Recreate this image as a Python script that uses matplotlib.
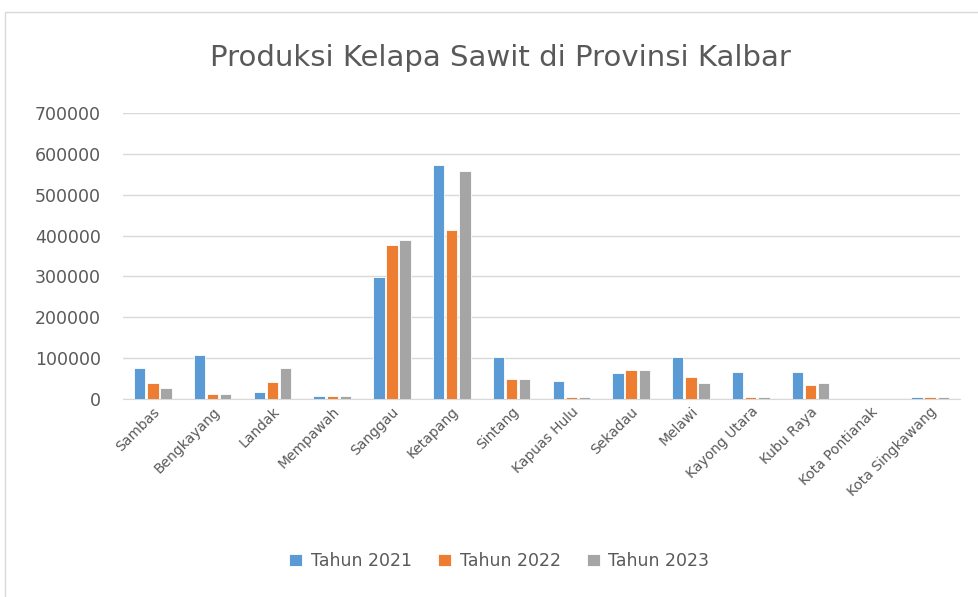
import matplotlib
matplotlib.use("Agg")
import matplotlib.pyplot as plt
import numpy as np
from matplotlib.patches import Rectangle

# data
kabupaten = ["Sambas", "Bengkayang", "Landak", "Mempawah", "Sanggau", "Ketapang",
             "Sintang", "Kapuas Hulu", "Sekadau", "Melawi", "Kayong Utara",
             "Kubu Raya", "Kota Pontianak", "Kota Singkawang"]
tahun_2021 = [77000, 107000, 16000, 8000, 298000, 573000, 102000, 45000, 63000,
              102000, 67000, 67000, 0, 4500]
tahun_2022 = [38000, 12000, 41000, 8000, 378000, 414000, 48000, 5000, 70000,
              55000, 5000, 34000, 0, 4500]
tahun_2023 = [26000, 12000, 77000, 8000, 390000, 558000, 48000, 5000, 70000,
              38000, 5000, 38000, 0, 4500]

series = [("Tahun 2021", tahun_2021, "#5B9BD5"),
          ("Tahun 2022", tahun_2022, "#ED7D31"),
          ("Tahun 2023", tahun_2023, "#A5A5A5")]

text_col = "#595959"
grid_col = "#D9D9D9"

fig = plt.figure(figsize=(9.79, 5.97), dpi=100)
# chart frame (runs off the right and bottom edges like the screenshot)
fig.patches.append(Rectangle((5 / 979, -0.01), 1.01, 1.01 - 12 / 597,
                             transform=fig.transFigure, fill=False,
                             edgecolor=grid_col, linewidth=1))

ax = fig.add_axes([0.1256, 0.3317, 0.855, 0.479])
x = np.arange(len(kabupaten))
offsets = [-0.22, 0, 0.22]
for (label, vals, col), off in zip(series, offsets):
    ax.bar(x + off, vals, width=0.19, color=col, edgecolor="white", linewidth=0.6,
           label=label, zorder=3)

ax.set_xlim(-0.5, len(kabupaten) - 0.5)
ax.set_ylim(0, 700000)
ax.set_yticks(range(0, 700001, 100000))
ax.set_yticklabels([str(v) for v in range(0, 700001, 100000)])
ax.yaxis.grid(True, color=grid_col, linewidth=1, zorder=0)
ax.set_axisbelow(True)
for s in ["left", "right", "top"]:
    ax.spines[s].set_visible(False)
ax.spines["bottom"].set_color(grid_col)
ax.tick_params(axis="y", length=0, labelsize=12.5, labelcolor=text_col, pad=16)
ax.tick_params(axis="x", length=0, labelcolor=text_col, labelsize=10, pad=4)
ax.set_xticks(x)
ax.set_xticklabels(kabupaten, rotation=45, ha="right", rotation_mode="anchor")

fig.text(0.511, 0.903, "Produksi Kelapa Sawit di Provinsi Kalbar", ha="center",
         va="center", fontsize=21, color=text_col)

fig.legend(loc="center", bbox_to_anchor=(0.51, 0.06), ncol=3, frameon=False,
           fontsize=12.5, labelcolor=text_col, handlelength=0.75, handleheight=0.75,
           columnspacing=1.5, handletextpad=0.5)

fig.savefig("out.png", dpi=100)
